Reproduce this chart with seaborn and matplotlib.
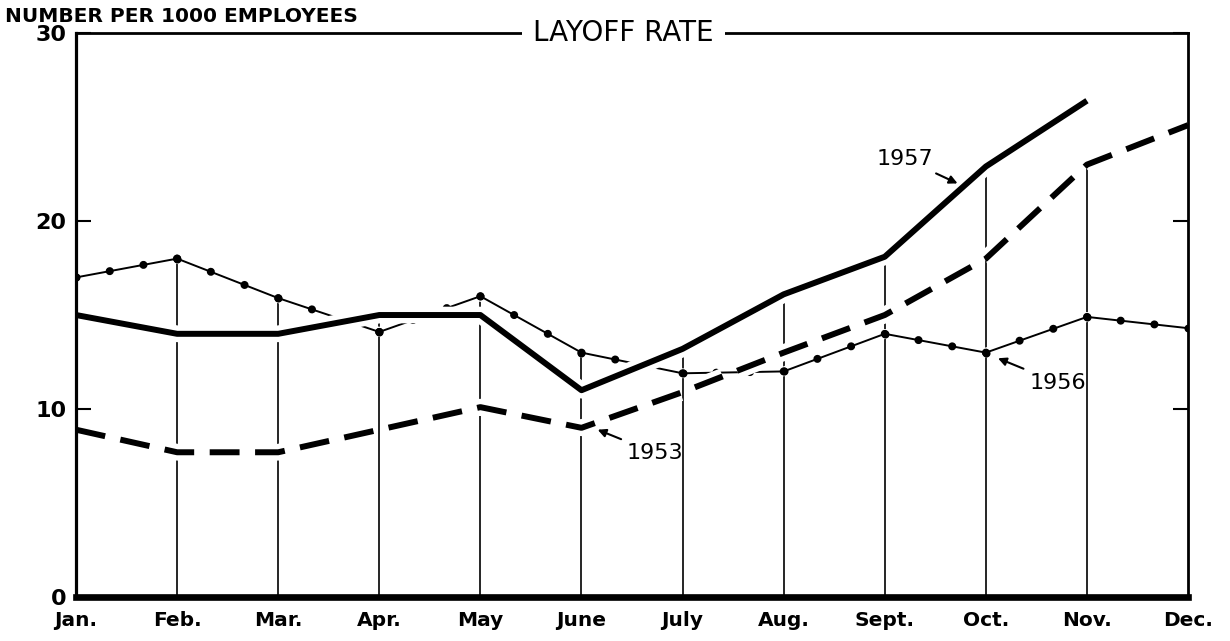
"""Layoff rate chart: 1953, 1956 and 1957 monthly layoffs per 1000 employees."""

import matplotlib
matplotlib.use("Agg")
import matplotlib.pyplot as plt
import matplotlib.patheffects as pe
import numpy as np
import pandas as pd
import seaborn as sns

# Data
months = ["Jan.", "Feb.", "Mar.", "Apr.", "May", "June",
          "July", "Aug.", "Sept.", "Oct.", "Nov.", "Dec."]
rate_1953 = [8.9, 7.7, 7.7, 8.9, 10.1, 9.0, 10.9, 13.0, 15.0, 18.0, 23.0, 25.1]
rate_1956 = [17.0, 18.0, 15.9, 14.1, 16.0, 13.0, 11.9, 12.0, 14.0, 13.0, 14.9, 14.3]
rate_1957 = [15.0, 14.0, 14.0, 15.0, 15.0, 11.0, 13.2, 16.1, 18.1, 22.9, 26.4]

sns.set_theme(style="white")
plt.rcParams["font.family"] = ["DejaVu Sans"]
plt.rcParams.update({
    "text.color": "black",
    "axes.labelcolor": "black",
    "xtick.color": "black",
    "ytick.color": "black",
})

x = np.arange(len(months))
df53 = pd.DataFrame({"month": x, "rate": rate_1953})
df56 = pd.DataFrame({"month": x, "rate": rate_1956})
df57 = pd.DataFrame({"month": x[:len(rate_1957)], "rate": rate_1957})

fig = plt.figure(figsize=(12.3, 6.41), dpi=100)
ax = fig.add_axes([0.0618, 0.0686, 0.9041, 0.8799])
ax.set_xlim(0, 11)
ax.set_ylim(0, 30)

# month rules up to the highest curve (the late 1957 point excluded)
tops = np.maximum(np.array(rate_1953), np.array(rate_1956))
tops[:len(rate_1957) - 1] = np.maximum(tops[:len(rate_1957) - 1], rate_1957[:-1])
ax.vlines(x[1:-1], 0, tops[1:-1], color="black", lw=1.2, zorder=1.5)

halo = lambda w: [pe.Stroke(linewidth=w, foreground="white"), pe.Normal()]

# 1956: thin line, dot at each month plus two dots between months
dot_lw = 5.8
sns.lineplot(data=df56, x="month", y="rate", ax=ax, color="black", lw=1.4,
             zorder=2.0, path_effects=halo(7))
sns.lineplot(data=df56, x="month", y="rate", ax=ax, color="black", lw=0,
             marker="o", markersize=dot_lw, markeredgewidth=0, zorder=2.05)
pix = ax.transData.transform(np.column_stack([x, rate_1956]))
for i in range(len(x) - 1):
    seg_pt = np.hypot(*(pix[i + 1] - pix[i])) * 72 / fig.dpi
    gap = seg_pt / 3 / dot_lw - 0.01
    ax.plot(x[i:i + 2], rate_1956[i:i + 2], color="black", lw=dot_lw,
            linestyle=(0, (0.01, gap)), dash_capstyle="round", zorder=2.05)

# 1953: heavy dashes
sns.lineplot(data=df53, x="month", y="rate", ax=ax, color="black", lw=4.3,
             linestyle=(0, (5, 2.6)), zorder=2.2, path_effects=halo(12))

# 1957: heavy solid
sns.lineplot(data=df57, x="month", y="rate", ax=ax, color="black", lw=4.3,
             zorder=2.4, path_effects=halo(12), solid_capstyle="butt")

ax.set_xlim(0, 11)
ax.set_ylim(0, 30)
ax.set_xticks(x)
ax.set_xticklabels(months, fontsize=14.5, fontweight="bold")
ax.set_yticks([0, 10, 20, 30])
ax.set_yticklabels(["0", "10", "20", "30"], fontsize=16, fontweight="bold")
ax.tick_params(axis="x", length=0, pad=10)
ax.tick_params(axis="y", direction="in", left=True, right=True,
               length=11, width=1.5, pad=7, color="black")
ax.set_xlabel("")
ax.set_ylabel("")
ax.grid(False)

for side, w in {"left": 2.3, "bottom": 4.8, "right": 2.0, "top": 2.0}.items():
    ax.spines[side].set_visible(True)
    ax.spines[side].set_linewidth(w)
    ax.spines[side].set_color("black")

# title sitting in a break of the top rule
ax.text(0.492, 1.0, "LAYOFF RATE", transform=ax.transAxes, ha="center", va="center",
        fontsize=20, zorder=5,
        bbox=dict(facecolor="white", edgecolor="none", pad=8))

fig.text(5 / 1230, 1 - 16 / 641, "NUMBER PER 1000 EMPLOYEES",
         ha="left", va="center", fontsize=14.5, fontweight="bold")

arrow = dict(arrowstyle="-|>", lw=1.5, color="black", mutation_scale=12,
             shrinkA=2, shrinkB=0)
ax.annotate("1957", xy=(8.72, 22.0), xytext=(8.2, 23.3), ha="center", va="center",
            fontsize=16, arrowprops=arrow)
ax.annotate("1956", xy=(9.12, 12.7), xytext=(9.71, 11.4), ha="center", va="center",
            fontsize=16, arrowprops=arrow)
ax.annotate("1953", xy=(5.16, 8.9), xytext=(5.73, 7.66), ha="center", va="center",
            fontsize=16, arrowprops=arrow)

fig.savefig("out.png", dpi=100)
plt.close(fig)
